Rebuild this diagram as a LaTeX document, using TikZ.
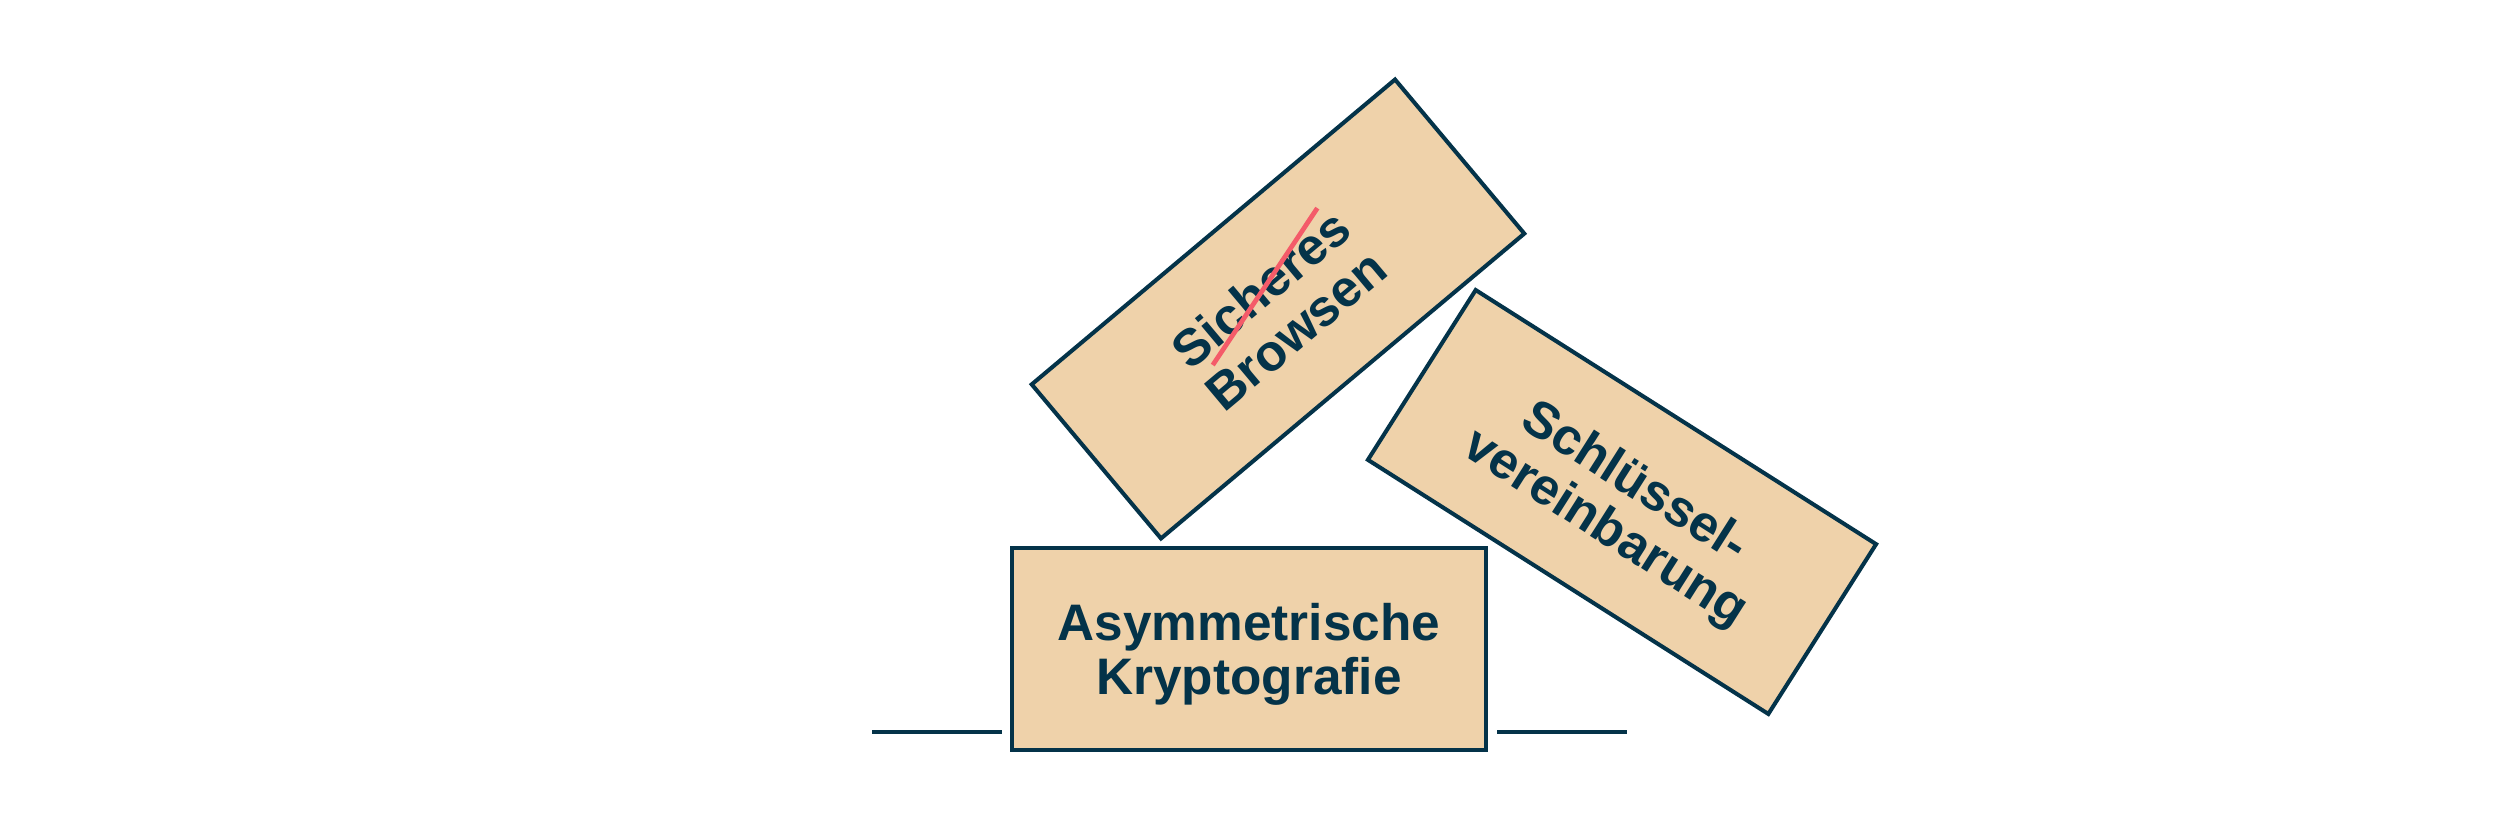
\documentclass[tikz,border=0pt]{standalone}
\usepackage{fontspec}
\setmainfont{Liberation Sans}
\definecolor{boxfill}{HTML}{EFD2AA}
\definecolor{ink}{HTML}{043349}
\definecolor{strikered}{HTML}{F45B69}
\begin{document}
\begin{tikzpicture}[x=0.01cm,y=0.01cm,
  card/.style={draw=ink, fill=boxfill, line width=1.15pt, minimum width=4.74cm,
    minimum height=2.01cm, inner sep=0pt, align=center, text=ink, text depth=0pt,
    font=\bfseries\fontsize{14.6}{15.4}\selectfont},
  ground/.style={draw=ink, line width=1.15pt},
  strikeline/.style={draw=strikered, line width=1.35pt}]
\useasboundingbox (0,0) rectangle (2500,833);
\node[card] (asym) at (1249,184) {Asymmetrische\\Kryptografie};
\node[card, rotate=40] (browse) at (1278,524) {Sicheres\\Browsen};
\node[card, rotate=-32.4] (key) at (1622,331) {Schlüssel-\\vereinbarung};
\coordinate (gl1) at (872,101);
\coordinate (gl2) at (1002,101);
\coordinate (gr1) at (1497,101);
\coordinate (gr2) at (1627,101);
\draw[ground] (gl1) -- (gl2);
\draw[ground] (gr1) -- (gr2);
\begin{scope}[shift={(browse.center)}, rotate=40]
  \coordinate (s1) at (-86,-1);
  \coordinate (s2) at (95,52);
\end{scope}
\draw[strikeline] (s1) -- (s2);
\end{tikzpicture}
\end{document}
